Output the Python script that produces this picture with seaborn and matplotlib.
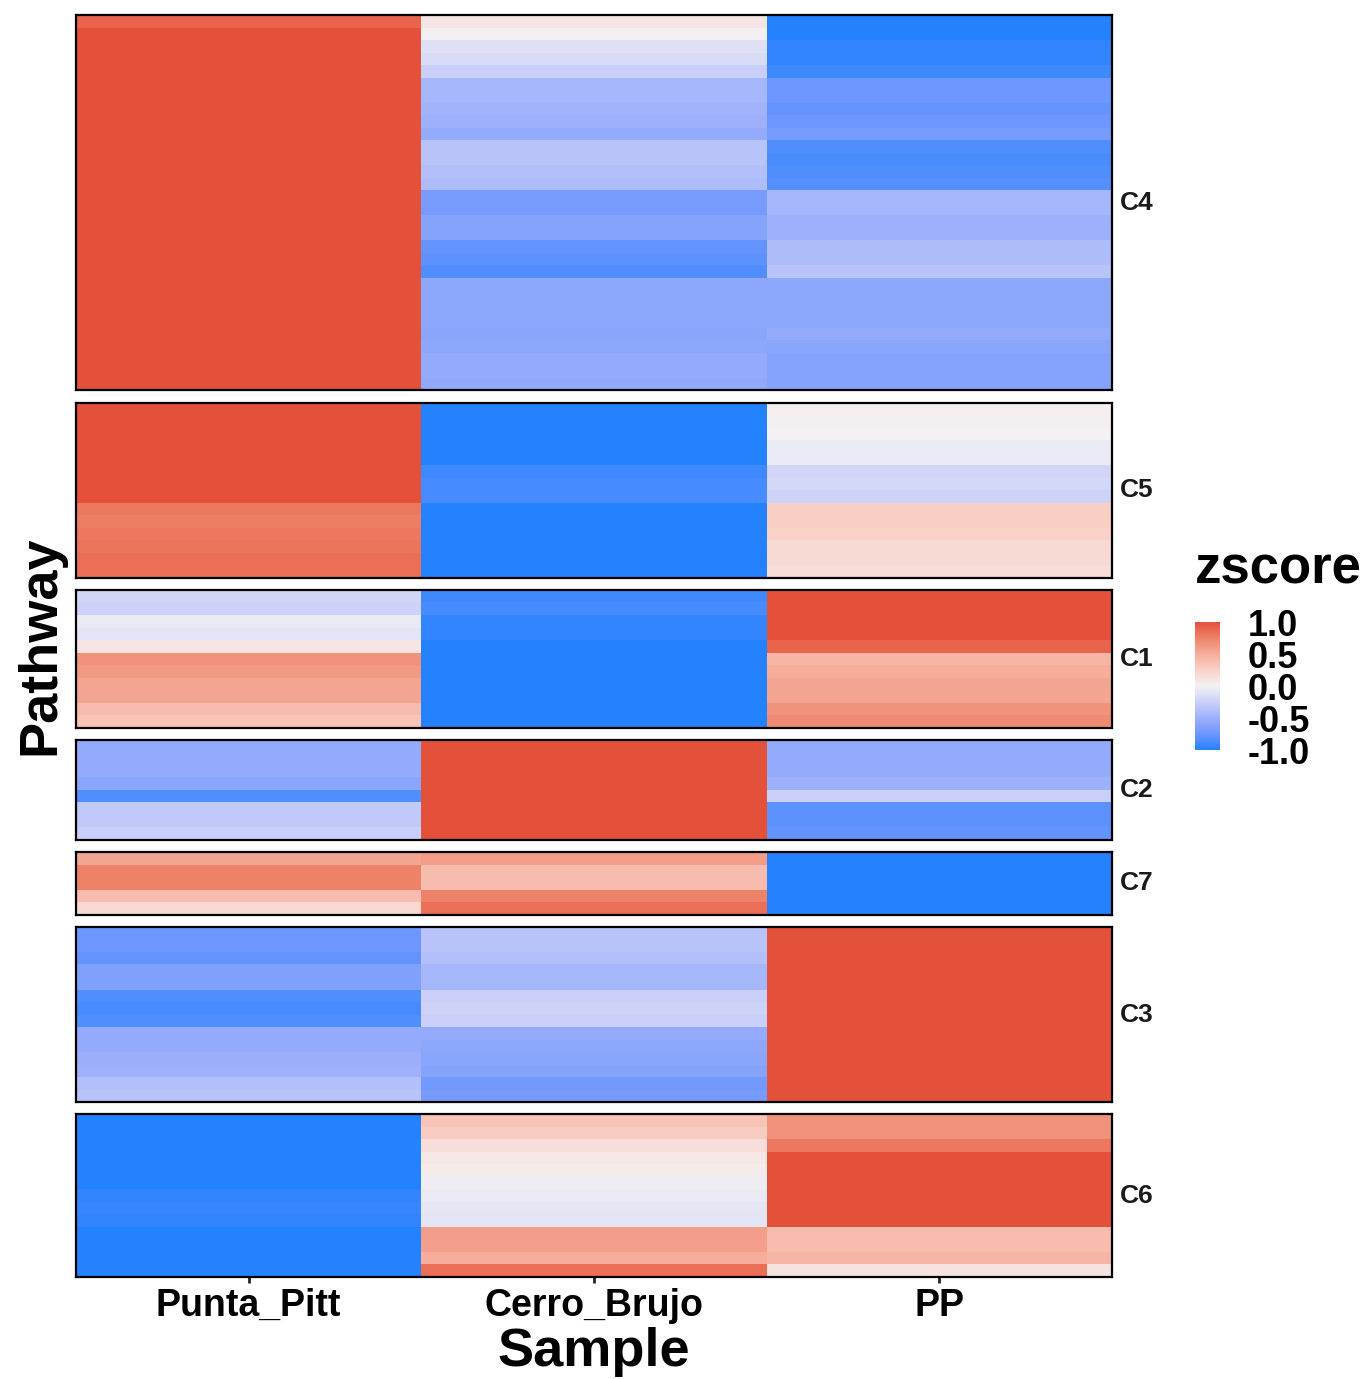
import numpy as np
import pandas as pd
import seaborn as sns
import matplotlib
matplotlib.use("Agg")
import matplotlib.pyplot as plt
from matplotlib.colors import LinearSegmentedColormap

samples = ["Punta_Pitt", "Cerro_Brujo", "PP"]
clusters = ["C4", "C5", "C1", "C2", "C7", "C3", "C6"]

# zscore per pathway row, one list per sample
c4_punta = [0.9, 1.0, 1.0, 1.0, 1.0, 1.0, 1.0, 1.0, 1.0, 1.0,
            1.0, 1.0, 1.0, 1.0, 1.0, 1.0, 1.0, 1.0, 1.0, 1.0,
            1.0, 1.0, 1.0, 1.0, 1.0, 1.0, 1.0, 1.0, 1.0, 1.0]
c4_cerro = [0.1, 0.02, -0.12, -0.15, -0.25, -0.45, -0.45, -0.47, -0.5, -0.55,
            -0.35, -0.35, -0.38, -0.4, -0.7, -0.7, -0.62, -0.62, -0.78, -0.8,
            -0.85, -0.58, -0.58, -0.58, -0.58, -0.6, -0.58, -0.55, -0.55, -0.57]
c4_pp = [-1.0, -1.0, -0.95, -0.95, -0.9, -0.75, -0.75, -0.77, -0.75, -0.7,
         -0.85, -0.87, -0.85, -0.83, -0.45, -0.45, -0.5, -0.5, -0.4, -0.4,
         -0.35, -0.58, -0.58, -0.58, -0.58, -0.55, -0.6, -0.62, -0.62, -0.62]

c5_punta = [1.0, 1.0, 1.0, 1.0, 1.0, 1.0, 1.0, 1.0, 0.8, 0.78, 0.8, 0.82, 0.85, 0.85]
c5_cerro = [-1.0, -1.0, -1.0, -1.0, -1.0, -0.9, -0.88, -0.88, -1.0, -1.0, -1.0, -1.0, -1.0, -1.0]
c5_pp = [0.03, 0.02, 0.0, -0.05, -0.05, -0.2, -0.18, -0.22, 0.28, 0.28, 0.25, 0.2, 0.18, 0.15]

c1_punta = [-0.2, -0.22, -0.05, -0.1, 0.1, 0.65, 0.62, 0.55, 0.55, 0.4, 0.35]
c1_cerro = [-0.9, -0.88, -0.95, -0.95, -1.0, -1.0, -1.0, -1.0, -1.0, -1.0, -1.0]
c1_pp = [1.0, 1.0, 1.0, 1.0, 0.9, 0.45, 0.5, 0.55, 0.55, 0.65, 0.7]

c2_punta = [-0.55, -0.55, -0.55, -0.6, -0.85, -0.3, -0.3, -0.25]
c2_cerro = [1.0, 1.0, 1.0, 1.0, 1.0, 1.0, 1.0, 1.0]
c2_pp = [-0.55, -0.55, -0.55, -0.5, -0.25, -0.8, -0.8, -0.78]

c7_punta = [0.55, 0.75, 0.75, 0.4, 0.2]
c7_cerro = [0.6, 0.4, 0.4, 0.75, 0.85]
c7_pp = [-1.0, -1.0, -1.0, -1.0, -1.0]

c3_punta = [-0.75, -0.75, -0.78, -0.65, -0.65, -0.85, -0.88, -0.85, -0.55, -0.55,
            -0.52, -0.5, -0.38, -0.35]
c3_cerro = [-0.35, -0.35, -0.38, -0.45, -0.45, -0.25, -0.22, -0.25, -0.55, -0.58,
            -0.6, -0.62, -0.72, -0.7]
c3_pp = [1.0, 1.0, 1.0, 1.0, 1.0, 1.0, 1.0, 1.0, 1.0, 1.0, 1.0, 1.0, 1.0, 1.0]

c6_punta = [-1.0, -1.0, -1.0, -1.0, -1.0, -1.0, -0.95, -0.93, -0.95, -1.0, -1.0, -1.0, -1.0]
c6_cerro = [0.35, 0.3, 0.15, 0.08, 0.05, -0.03, -0.05, -0.08, -0.1, 0.6, 0.58, 0.5, 0.85]
c6_pp = [0.65, 0.65, 0.8, 1.0, 1.0, 1.0, 1.0, 1.0, 1.0, 0.4, 0.4, 0.45, 0.12]

panels = {
    "C4": (c4_punta, c4_cerro, c4_pp),
    "C5": (c5_punta, c5_cerro, c5_pp),
    "C1": (c1_punta, c1_cerro, c1_pp),
    "C2": (c2_punta, c2_cerro, c2_pp),
    "C7": (c7_punta, c7_cerro, c7_pp),
    "C3": (c3_punta, c3_cerro, c3_pp),
    "C6": (c6_punta, c6_cerro, c6_pp),
}

# blue - white - red, roughly like a Lab gradient2
cmap = LinearSegmentedColormap.from_list(
    "zs",
    [(0.0, "#2481FF"), (0.125, "#6D96FE"), (0.25, "#9EB0FB"), (0.375, "#C9CFF8"),
     (0.5, "#F3F1F4"), (0.625, "#F9D2C9"), (0.75, "#F6AE9C"), (0.875, "#EE8369"),
     (1.0, "#E4513A")],
)

sns.set_style("white")
plt.rcParams["font.family"] = ["Liberation Sans", "DejaVu Sans"]
plt.rcParams["font.weight"] = "bold"
plt.rcParams["text.color"] = "black"
plt.rcParams["xtick.labelcolor"] = "black"
plt.rcParams["ytick.labelcolor"] = "black"

fig = plt.figure(figsize=(13.72, 13.79), dpi=100)
heights = [len(panels[c][0]) for c in clusters]
gs = fig.add_gridspec(len(clusters), 1, height_ratios=heights,
                      left=76 / 1372, right=1112 / 1372,
                      top=1 - 15 / 1379, bottom=1 - 1277 / 1379, hspace=0.072)
cax = fig.add_axes([1195 / 1372, 1 - 750 / 1379, 25 / 1372, 128 / 1379])

for i, cl in enumerate(clusters):
    ax = fig.add_subplot(gs[i])
    df = pd.DataFrame(np.array(panels[cl]).T, columns=samples)
    sns.heatmap(df, ax=ax, cmap=cmap, vmin=-1, vmax=1,
                cbar=(i == 0), cbar_ax=cax if i == 0 else None,
                xticklabels=samples, yticklabels=False)
    for sp in ax.spines.values():
        sp.set_visible(True)
        sp.set_color("black")
        sp.set_linewidth(1.6)
    ax.set_ylabel("")
    ax.set_xlabel("")
    ax.tick_params(axis="y", left=False)
    if i == len(clusters) - 1:
        ax.tick_params(axis="x", bottom=True, length=4, width=2, color="#222222",
                       labelsize=27, pad=4, rotation=0, labelcolor="black")
        for t in ax.get_xticklabels():
            t.set_fontweight("bold")
    else:
        ax.tick_params(axis="x", bottom=False, labelbottom=False)
    ax.text(1.008, 0.5, cl, transform=ax.transAxes, ha="left", va="center",
            fontsize=19, fontweight="bold", color="#1a1a1a")

cax.tick_params(axis="y", left=True, right=True, direction="in", length=5,
                width=1, color="white", labelsize=26, pad=20, labelcolor="black")
cax.set_yticks([-1.0, -0.5, 0.0, 0.5, 1.0])
cax.set_yticklabels(["-1.0", "-0.5", "0.0", "0.5", "1.0"], fontweight="bold")
for sp in cax.spines.values():
    sp.set_visible(False)

fig.text(1195 / 1372, 1 - 570 / 1379, "zscore", ha="left", va="center",
         fontsize=38, fontweight="bold", color="black")
fig.text(594 / 1372, 1 - 1352 / 1379, "Sample", ha="center", va="center",
         fontsize=39, fontweight="bold", color="black")
fig.text(40 / 1372, 1 - 645 / 1379, "Pathway", ha="center", va="center",
         rotation=90, fontsize=39, fontweight="bold", color="black")

fig.savefig("out.png", dpi=100)
